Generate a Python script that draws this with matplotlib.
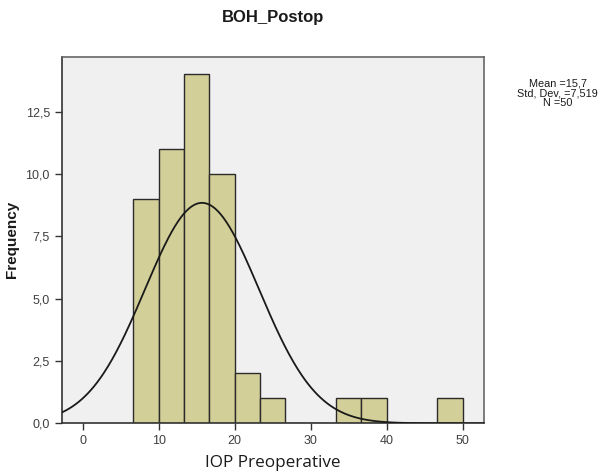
import numpy as np
import matplotlib.pyplot as plt
from matplotlib.ticker import FuncFormatter


# =====================================
# Data
# =====================================

bin_edges = [6.667, 10.0, 13.333, 16.667, 20.0, 23.333, 26.667,
             30.0, 33.333, 36.667, 40.0, 43.333, 46.667, 50.0]
counts = [9, 11, 14, 10, 2, 1, 0, 0, 1, 1, 0, 0, 1]

mean = 15.7
std_dev = 7.519
n_obs = 50

x_ticks = [0, 10, 20, 30, 40, 50]
y_ticks = [0.0, 2.5, 5.0, 7.5, 10.0, 12.5]


# =====================================
# Create Chart
# =====================================

plt.rcParams["font.family"] = ["Liberation Sans", "DejaVu Sans"]

fig = plt.figure(figsize=(6.01, 4.73), dpi=100)
ax = fig.add_axes([0.1027, 0.105, 0.7031, 0.775])
ax.set_facecolor("#f0f0f0")

lefts = np.array(bin_edges[:-1])
widths = np.diff(bin_edges)
ax.bar(
    lefts,
    counts,
    width=widths,
    align="edge",
    color="#d3cf98",
    edgecolor="#2b2b2b",
    linewidth=1.0,
    zorder=2,
)

# normal curve scaled to counts
bw = widths[0]
xs = np.linspace(-2.8, 52.8, 400)
ys = n_obs * bw / (std_dev * np.sqrt(2 * np.pi)) * np.exp(-0.5 * ((xs - mean) / std_dev) ** 2)
ax.plot(xs, ys, color="#1a1a1a", linewidth=1.3, zorder=3)

ax.set_xlim(-2.76, 52.84)
ax.set_ylim(0, 14.7)

ax.set_xticks(x_ticks)
ax.set_yticks(y_ticks)
ax.yaxis.set_major_formatter(FuncFormatter(lambda v, p: f"{v:.1f}".replace(".", ",")))

ax.tick_params(direction="out", length=5, width=1, color="#333333",
               labelsize=9, labelcolor="#404040")

for side in ["left", "bottom"]:
    ax.spines[side].set_color("#333333")
    ax.spines[side].set_linewidth(1.2)
for side in ["top", "right"]:
    ax.spines[side].set_color("#666666")
    ax.spines[side].set_linewidth(1.2)

ax.set_title("BOH_Postop", fontsize=12, fontweight="bold", pad=25, color="#1a1a1a")

ax.set_xlabel("IOP Preoperative", fontsize=12.3, family=["Open Sans", "DejaVu Sans"],
              color="#1a1a1a", labelpad=6)
ax.set_ylabel("Frequency", fontsize=11, fontweight="bold", color="#1a1a1a")
ax.yaxis.set_label_coords(-0.101, 0.503)

fig.text(
    0.928, 0.803,
    f"Mean ={mean:.1f}".replace(".", ",")
    + f"\nStd. Dev. ={std_dev:.3f}".replace(".", ",")
    + f"\nN ={n_obs}",
    ha="center", va="center", fontsize=7.8, linespacing=1.0, color="#1a1a1a",
)


# =====================================
# Save Image
# =====================================

plt.savefig("out.png", dpi=100)
plt.close()
